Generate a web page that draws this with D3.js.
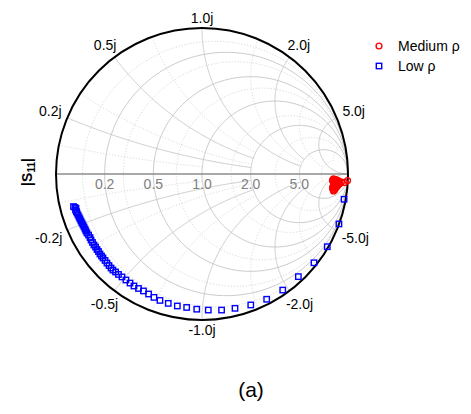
<!DOCTYPE html>
<html>
<head>
<meta charset="utf-8">
<script src="https://cdn.jsdelivr.net/npm/d3@7"></script>
<style>
  body { margin: 0; background: #fff; }
  text { font-family: "Liberation Sans", Arial, sans-serif; }
</style>
</head>
<body>
<svg id="drawing_region"></svg>
<script>
// grid values (normalised impedance)
const majorTicks = [0.2, 0.5, 1.0, 2.0, 5.0];
const minorTicks = [0.1, 0.3, 0.7, 1.5, 3.0, 10.0];
const reactLabels = ["0.2j", "0.5j", "1.0j", "2.0j", "5.0j", "-0.2j", "-0.5j", "-1.0j", "-2.0j", "-5.0j"];
const reactValues = [0.2, 0.5, 1.0, 2.0, 5.0, -0.2, -0.5, -1.0, -2.0, -5.0];

const mediumRe = [0.997, 0.976, 0.955, 0.938, 0.925, 0.911, 0.901, 0.894, 0.897, 0.904, 0.911, 0.921, 0.932, 0.938, 0.945, 0.935, 0.918, 0.904, 0.897, 0.894, 0.897, 0.901, 0.908, 0.914, 0.921, 0.928, 0.918, 0.908, 0.901, 0.911, 0.921];
const mediumIm = [-0.045, -0.058, -0.055, -0.048, -0.041, -0.038, -0.034, -0.041, -0.051, -0.062, -0.068, -0.072, -0.075, -0.068, -0.065, -0.058, -0.055, -0.075, -0.086, -0.096, -0.106, -0.116, -0.110, -0.099, -0.089, -0.082, -0.082, -0.092, -0.068, -0.048, -0.041];

const lowRe = [-0.880, -0.870, -0.863, -0.866, -0.860, -0.856, -0.849, -0.842, -0.836, -0.829, -0.822, -0.815, -0.808, -0.801, -0.795, -0.788, -0.777, -0.767, -0.760, -0.750, -0.740, -0.729, -0.719, -0.709, -0.699, -0.688, -0.678, -0.664, -0.651, -0.637, -0.623, -0.610, -0.592, -0.572, -0.548, -0.521, -0.493, -0.466, -0.435, -0.401, -0.366, -0.329, -0.288, -0.231, -0.169, -0.105, -0.036, 0.043, 0.134, 0.226, 0.334, 0.443, 0.553, 0.660, 0.767, 0.858, 0.938, 0.973];
const lowIm = [-0.223, -0.229, -0.236, -0.247, -0.257, -0.267, -0.281, -0.295, -0.308, -0.322, -0.336, -0.349, -0.363, -0.377, -0.390, -0.404, -0.418, -0.435, -0.452, -0.469, -0.486, -0.500, -0.517, -0.531, -0.548, -0.562, -0.575, -0.592, -0.610, -0.627, -0.644, -0.658, -0.671, -0.688, -0.705, -0.726, -0.747, -0.767, -0.784, -0.801, -0.822, -0.845, -0.866, -0.886, -0.904, -0.914, -0.926, -0.932, -0.932, -0.920, -0.897, -0.858, -0.795, -0.703, -0.608, -0.498, -0.342, -0.173];

const seriesNames = ["Medium \u03c1", "Low \u03c1"];

const width = 471, height = 414;
const cx = 202, cy = 174, R = 146;

const svg = d3.select('#drawing_region')
    .attr('width', width)
    .attr('height', height);

const xscale = d3.scaleLinear().domain([-1, 1]).range([cx - R, cx + R]);
const yscale = d3.scaleLinear().domain([-1, 1]).range([cy + R, cy - R]);

// z = r + jx  ->  gamma
function gam(r, x) {
    const d = (r + 1) * (r + 1) + x * x;
    return [(r * r - 1 + x * x) / d, 2 * x / d];
}

const line = d3.line().x(d => xscale(d[0])).y(d => yscale(d[1]));

// constant resistance circle, |x| <= xm
function rPath(r, xm) {
    const pts = [];
    const a = Math.atan(xm);
    for (let i = 0; i <= 240; i++) {
        const phi = -a + 2 * a * i / 240;
        pts.push(gam(r, Math.tan(phi)));
    }
    return line(pts);
}

// constant reactance arc, 0 <= r <= rm
function xPath(x, rm) {
    const pts = [];
    const tm = rm / (1 + rm);
    for (let i = 0; i <= 240; i++) {
        const t = tm * i / 240;
        pts.push(gam(t / (1 - t), x));
    }
    return line(pts);
}

const grid = svg.append('g');

// minor grid (dotted)
const minorR = { 0.1: 5, 0.3: 5, 0.7: 5, 1.5: 5, 3.0: 10, 10.0: 10 };
const minorX = { 0.1: 1, 0.3: 2, 0.7: 2, 1.5: 5, 3.0: 10, 10.0: 10 };
minorTicks.forEach(v => {
    grid.append('path').attr('d', rPath(v, minorR[v]))
        .attr('fill', 'none').attr('stroke', '#cfcfcf')
        .attr('stroke-width', 0.8).attr('stroke-dasharray', '1.2,1.8');
    [v, -v].forEach(x => {
        grid.append('path').attr('d', xPath(x, minorX[v]))
            .attr('fill', 'none').attr('stroke', '#cfcfcf')
            .attr('stroke-width', 0.8).attr('stroke-dasharray', '1.2,1.8');
    });
});

// major grid (solid)
const majorX = { 0.2: 2, 0.5: 2, 1.0: 5, 2.0: 5, 5.0: 1e6 };
majorTicks.forEach(v => {
    grid.append('path').attr('d', rPath(v, 1e6))
        .attr('fill', 'none').attr('stroke', '#c4c4c4').attr('stroke-width', 0.9);
    [v, -v].forEach(x => {
        grid.append('path').attr('d', xPath(x, majorX[v]))
            .attr('fill', 'none').attr('stroke', '#c4c4c4').attr('stroke-width', 0.9);
    });
});

// real axis
svg.append('line')
    .attr('x1', xscale(-1)).attr('x2', xscale(1))
    .attr('y1', yscale(0)).attr('y2', yscale(0))
    .attr('stroke', '#8c8c8c').attr('stroke-width', 1.3);

// boundary
svg.append('circle')
    .attr('cx', xscale(0)).attr('cy', yscale(0))
    .attr('r', xscale(1) - xscale(0))
    .attr('fill', 'none').attr('stroke', '#000').attr('stroke-width', 2);

// resistance labels
svg.append('g').selectAll('text')
    .data(majorTicks)
    .enter().append('text')
    .attr('x', d => xscale(gam(d, 0)[0]))
    .attr('y', yscale(0) + 15)
    .attr('text-anchor', 'middle')
    .attr('font-size', 14)
    .attr('fill', '#808080')
    .text(d => d.toFixed(1));

// reactance labels outside the circle
const rl = svg.append('g');
reactValues.forEach((x, i) => {
    const g = gam(0, x);
    const ang = Math.atan2(g[1], g[0]);
    const t = rl.append('text')
        .attr('font-size', 14)
        .attr('text-anchor', 'middle')
        .attr('dominant-baseline', 'central')
        .text(reactLabels[i]);
    const w = t.node().getComputedTextLength();
    const dist = R + 10 + 0.8 * Math.abs(Math.cos(ang)) * w / 2;
    t.attr('x', cx + dist * Math.cos(ang))
     .attr('y', cy - dist * Math.sin(ang));
});

// data
const medium = mediumRe.map((d, i) => [d, mediumIm[i]]);
const low = lowRe.map((d, i) => [d, lowIm[i]]);

svg.append('g').selectAll('rect')
    .data(low)
    .enter().append('rect')
    .attr('x', d => xscale(d[0]) - 2.7)
    .attr('y', d => yscale(d[1]) - 2.7)
    .attr('width', 5.4).attr('height', 5.4)
    .attr('fill', 'none').attr('stroke', '#0000ff').attr('stroke-width', 1.4);

svg.append('g').selectAll('circle')
    .data(medium)
    .enter().append('circle')
    .attr('cx', d => xscale(d[0]))
    .attr('cy', d => yscale(d[1]))
    .attr('r', 2.9)
    .attr('fill', 'none').attr('stroke', '#ff0000').attr('stroke-width', 1.4);

// legend
const legend = svg.append('g');
legend.append('circle')
    .attr('cx', 379).attr('cy', 46).attr('r', 2.9)
    .attr('fill', 'none').attr('stroke', '#ff0000').attr('stroke-width', 1.4);
legend.append('rect')
    .attr('x', 379 - 2.7).attr('y', 66 - 2.7).attr('width', 5.4).attr('height', 5.4)
    .attr('fill', 'none').attr('stroke', '#0000ff').attr('stroke-width', 1.4);
legend.selectAll('text')
    .data(seriesNames)
    .enter().append('text')
    .attr('x', 398)
    .attr('y', (d, i) => 46 + i * 20)
    .attr('dominant-baseline', 'central')
    .attr('font-size', 14)
    .text(d => d);

// y label
const yl = svg.append('text')
    .attr('transform', 'translate(32,172) rotate(-90)')
    .attr('text-anchor', 'middle')
    .attr('font-size', 14)
    .attr('font-weight', 'bold');
yl.append('tspan').text('|S');
yl.append('tspan').attr('font-size', 10).attr('dy', 3).text('11');
yl.append('tspan').attr('dy', -3).text('|');

// caption
svg.append('text')
    .attr('x', 251).attr('y', 397)
    .attr('text-anchor', 'middle')
    .attr('font-size', 21)
    .text('(a)');
</script>
</body>
</html>
